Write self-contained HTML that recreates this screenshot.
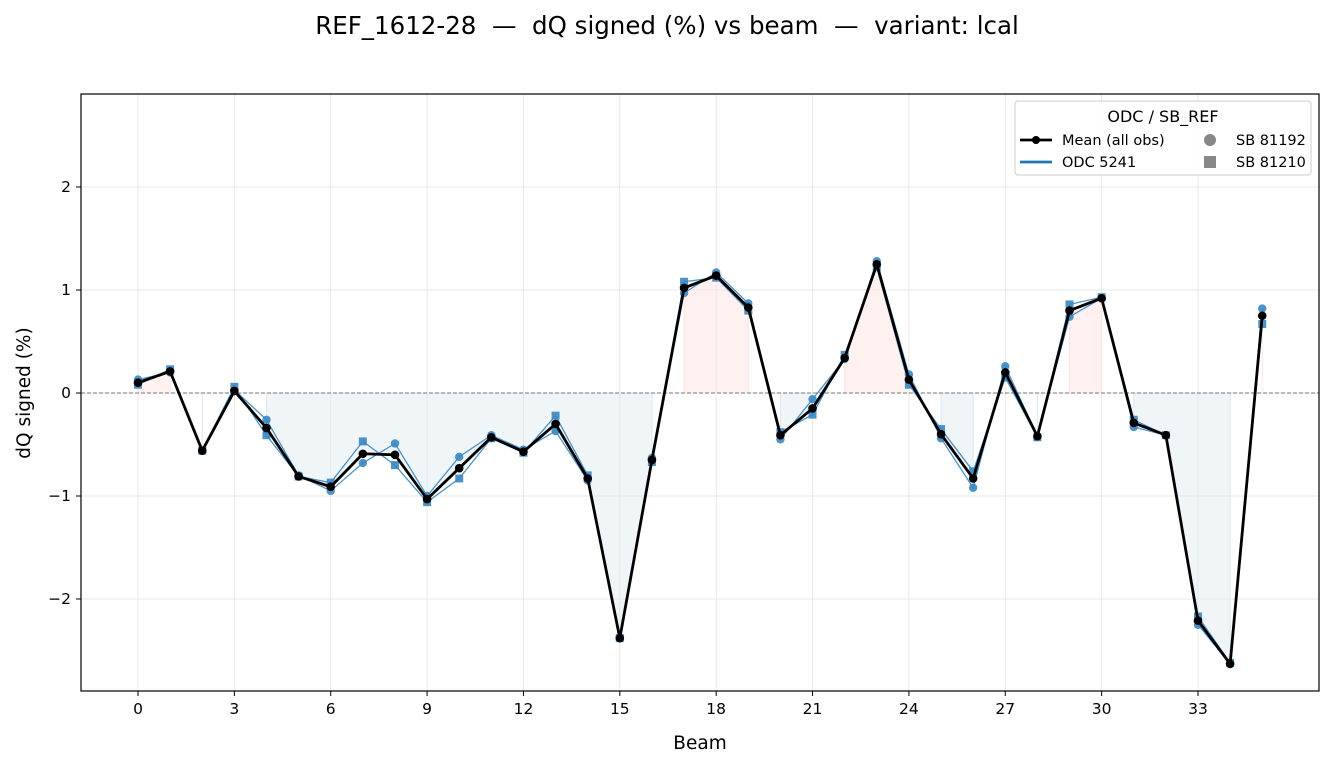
<!DOCTYPE html>
<html><head><meta charset="utf-8"><style>
body{margin:0;background:#fff;}
svg{display:block;font-family:"DejaVu Sans","Liberation Sans",sans-serif;}
text{white-space:pre;}
</style></head><body>
<svg id="s" width="1334" height="767" xmlns="http://www.w3.org/2000/svg">
<rect width="1334" height="767" fill="#fff"/>
<text x="667" y="34" font-size="24.5" text-anchor="middle" fill="#000" xml:space="preserve">REF_1612-28  —  dQ signed (%) vs beam  —  variant: lcal</text>
<g id="grid"></g>
<g id="fill"></g>
<line x1="81" x2="1319" y1="393" y2="393" stroke="#777" stroke-width="1" stroke-dasharray="4,2"/>
<g id="ser"></g>
<rect x="81" y="94" width="1238" height="597" fill="none" stroke="#000" stroke-width="1.2"/>
<g id="ticks" font-size="15.5" fill="#000"></g>
<text x="700" y="749" font-size="18.5" text-anchor="middle">Beam</text>
<text transform="translate(30,393) rotate(-90)" font-size="18.5" text-anchor="middle">dQ signed (%)</text>
<g>
<rect x="1015" y="101" width="296" height="74" rx="3" fill="#fff" fill-opacity="0.85" stroke="#ccc"/>
<text x="1163" y="122" font-size="16" text-anchor="middle">ODC / SB_REF</text>
<line x1="1020" x2="1052" y1="140" y2="140" stroke="#000" stroke-width="2.8"/>
<circle cx="1036" cy="140" r="4" fill="#000"/>
<text x="1062" y="145" font-size="14.5">Mean (all obs)</text>
<line x1="1020" x2="1052" y1="162" y2="162" stroke="#1f77b4" stroke-width="2.8"/>
<text x="1062" y="167" font-size="14.5">ODC 5241</text>
<circle cx="1210" cy="140" r="6" fill="#888"/>
<rect x="1204" y="156" width="12" height="12" fill="#888"/>
<text x="1236" y="145" font-size="14.5">SB 81192</text>
<text x="1236" y="167" font-size="14.5">SB 81210</text>
</g>
</svg>
<script>
const NS="http://www.w3.org/2000/svg";
const X=b=>138+b*32.121, Y=v=>393-v*103;
const mean=[0.10,0.21,-0.56,0.02,-0.34,-0.81,-0.91,-0.59,-0.60,-1.03,-0.73,-0.43,-0.57,-0.30,-0.83,-2.38,-0.65,1.02,1.14,0.83,-0.41,-0.15,0.34,1.25,0.13,-0.40,-0.83,0.20,-0.42,0.80,0.92,-0.29,-0.41,-2.21,-2.63,0.75];
const c=[0.13,0.2,-0.56,0.03,-0.26,-0.8,-0.95,-0.68,-0.49,-1.0,-0.62,-0.41,-0.55,-0.37,-0.85,-2.37,-0.63,0.97,1.17,0.87,-0.45,-0.06,0.33,1.28,0.18,-0.44,-0.92,0.26,-0.42,0.74,0.92,-0.33,-0.41,-2.25,-2.63,0.82];
const q=[0.08,0.23,-0.56,0.06,-0.41,-0.81,-0.87,-0.47,-0.7,-1.06,-0.83,-0.44,-0.58,-0.22,-0.8,-2.38,-0.67,1.08,1.12,0.8,-0.38,-0.21,0.37,1.22,0.08,-0.35,-0.76,0.15,-0.43,0.86,0.93,-0.26,-0.41,-2.17,-2.62,0.67];
function el(p,t,a){const e=document.createElementNS(NS,t);for(const k in a)e.setAttribute(k,a[k]);document.getElementById(p).appendChild(e);return e;}
for(let b=0;b<=33;b+=3){el("grid","line",{x1:X(b),x2:X(b),y1:94,y2:691,stroke:"#e3e3e3","stroke-width":0.8});
 el("ticks","line",{x1:X(b),x2:X(b),y1:691,y2:696,stroke:"#000"});
 const t=el("ticks","text",{x:X(b),y:714,"text-anchor":"middle"});t.textContent=b;}
for(let v=-2;v<=2;v++){el("grid","line",{x1:81,x2:1319,y1:Y(v),y2:Y(v),stroke:"#e3e3e3","stroke-width":0.8});
 el("ticks","line",{x1:76,x2:81,y1:Y(v),y2:Y(v),stroke:"#000"});
 const t=el("ticks","text",{x:71,y:Y(v)+5,"text-anchor":"end"});t.textContent=(v<0?"\u2212"+(-v):v);}
function runs(pos){let i=0;while(i<mean.length){if((mean[i]>0)===pos){let j=i;while(j+1<mean.length&&(mean[j+1]>0)===pos)j++;
 let pts=[X(i)+","+Y(0)];for(let k=i;k<=j;k++)pts.push(X(k)+","+Y(mean[k]));pts.push(X(j)+","+Y(0));
 el("fill","polygon",{points:pts.join(" "),fill:pos?"#fde3df":"#dde8ef","fill-opacity":pos?0.5:0.45,stroke:pos?"#fde3df":"#dde8ef","stroke-width":1});i=j+1;}else i++;}}
runs(true);runs(false);
const pl=a=>a.map((v,i)=>X(i)+","+Y(v)).join(" ");
el("ser","polyline",{points:pl(c),fill:"none",stroke:"#3a87c0","stroke-width":1.3,"stroke-opacity":0.9});
el("ser","polyline",{points:pl(q),fill:"none",stroke:"#3a87c0","stroke-width":1.3,"stroke-opacity":0.9});
c.forEach((v,i)=>el("ser","circle",{cx:X(i),cy:Y(v),r:4.2,fill:"#3a87c0","fill-opacity":0.9}));
q.forEach((v,i)=>el("ser","rect",{x:X(i)-4,y:Y(v)-4,width:8,height:8,fill:"#3a87c0","fill-opacity":0.9}));
el("ser","polyline",{points:pl(mean),fill:"none",stroke:"#000","stroke-width":2.8,"stroke-linejoin":"round"});
mean.forEach((v,i)=>el("ser","circle",{cx:X(i),cy:Y(v),r:4.3,fill:"#000"}));
</script>
</body></html>
